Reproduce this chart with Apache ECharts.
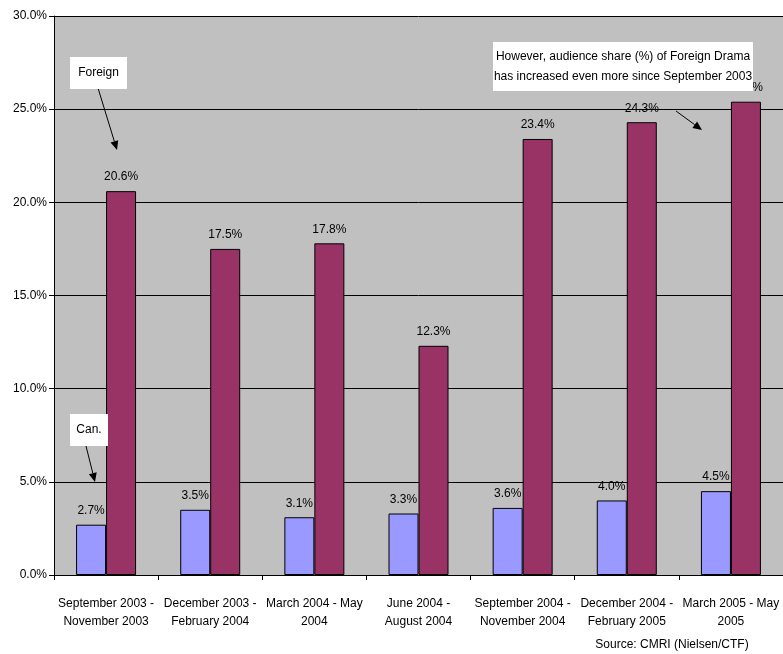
<!DOCTYPE html>
<html>
<head>
<meta charset="utf-8">
<script src="https://cdn.jsdelivr.net/npm/echarts@6/dist/echarts.min.js"></script>
<style>
  html, body { margin: 0; padding: 0; background: #fff; }
  #main { width: 783px; height: 654px; }
</style>
</head>
<body>
<div id="main"></div>
<script>
// 数据
var categories = [
  "September 2003 -\nNovember 2003",
  "December 2003 -\nFebruary 2004",
  "March 2004 - May\n2004",
  "June 2004 -\nAugust 2004",
  "September 2004 -\nNovember 2004",
  "December 2004 -\nFebruary 2005",
  "March 2005 - May\n2005"
];
var canValues = [2.7, 3.5, 3.1, 3.3, 3.6, 4.0, 4.5];
var foreignValues = [20.6, 17.5, 17.8, 12.3, 23.4, 24.3, 25.4];
var yTicks = [0, 5, 10, 15, 20, 25, 30];

var FONT = "'Liberation Sans Narrow', 'Liberation Sans', Arial, sans-serif";

// 箭头：线 + 三角形头
function arrow(x1, y1, x2, y2) {
  var ang = Math.atan2(y2 - y1, x2 - x1);
  var len = 9, w = 4;
  var bx = x2 - len * Math.cos(ang), by = y2 - len * Math.sin(ang);
  var px = -Math.sin(ang) * w, py = Math.cos(ang) * w;
  return {
    type: "group",
    children: [
      { type: "line", z: 100, shape: { x1: x1, y1: y1, x2: bx, y2: by }, style: { stroke: "#000", lineWidth: 1 } },
      { type: "polygon", z: 100, shape: { points: [[x2, y2], [bx + px, by + py], [bx - px, by - py]] }, style: { fill: "#000" } }
    ]
  };
}

// 白底文字框（盖在标签上面）
function box(x, y, w, h, text) {
  return {
    type: "group",
    children: [
      { type: "rect", z: 100, shape: { x: x, y: y, width: w, height: h }, style: { fill: "#fff" } },
      {
        type: "text", z: 101, x: x + w / 2, y: y + h / 2,
        style: { text: text, fill: "#000", font: "12px " + FONT, align: "center", verticalAlign: "middle", lineHeight: 20 }
      }
    ]
  };
}

var myChart = echarts.init(document.getElementById("main"));

var labelStyle = {
  show: true,
  position: "top",
  distance: 8,
  formatter: function (p) { return p.value.toFixed(1) + "%"; },
  color: "#000",
  fontSize: 12,
  fontFamily: FONT
};

var option = {
  animation: false,
  grid: {
    left: 54, right: 0, top: 16, bottom: 79,
    show: true, backgroundColor: "#c0c0c0", borderWidth: 0
  },
  xAxis: {
    type: "category",
    data: categories,
    axisLine: { lineStyle: { color: "#000", width: 1 } },
    axisTick: { show: true, length: 5, inside: false, lineStyle: { color: "#000" } },
    axisLabel: {
      interval: 0, color: "#000", fontSize: 12, fontFamily: FONT,
      lineHeight: 18, margin: 20
    }
  },
  yAxis: {
    type: "value",
    min: yTicks[0],
    max: yTicks[yTicks.length - 1],
    interval: 5,
    axisLine: { show: true, lineStyle: { color: "#000", width: 1 } },
    axisTick: { show: true, length: 5, lineStyle: { color: "#000" } },
    splitLine: { lineStyle: { color: "#000", width: 1 } },
    axisLabel: {
      color: "#000", fontSize: 12, fontFamily: FONT, margin: 7,
      formatter: function (v) { return v.toFixed(1) + "%"; }
    }
  },
  series: [
    {
      name: "Can.",
      type: "bar",
      data: canValues,
      barWidth: 30,
      barGap: "0%",
      itemStyle: { color: "#9999ff", borderColor: "#000", borderWidth: 1 },
      label: labelStyle
    },
    {
      name: "Foreign",
      type: "bar",
      data: foreignValues,
      barWidth: 30,
      barGap: "0%",
      itemStyle: { color: "#993366", borderColor: "#000", borderWidth: 1 },
      label: labelStyle
    }
  ],
  graphic: [
    arrow(98, 88, 117, 150),
    box(70, 57, 57, 32, "Foreign"),
    arrow(86, 446, 95, 482),
    box(70, 414, 38, 32, "Can."),
    arrow(676, 111, 702, 130),
    box(493, 42, 260, 49, "However, audience share (%) of Foreign Drama\nhas increased even more since September 2003"),
    {
      type: "text", x: 672, y: 645,
      style: { text: "Source: CMRI (Nielsen/CTF)", fill: "#000", font: "12px " + FONT, align: "center", verticalAlign: "middle" }
    }
  ]
};

myChart.setOption(option);
window.addEventListener("resize", function () {
  myChart.resize();
});
</script>
</body>
</html>
